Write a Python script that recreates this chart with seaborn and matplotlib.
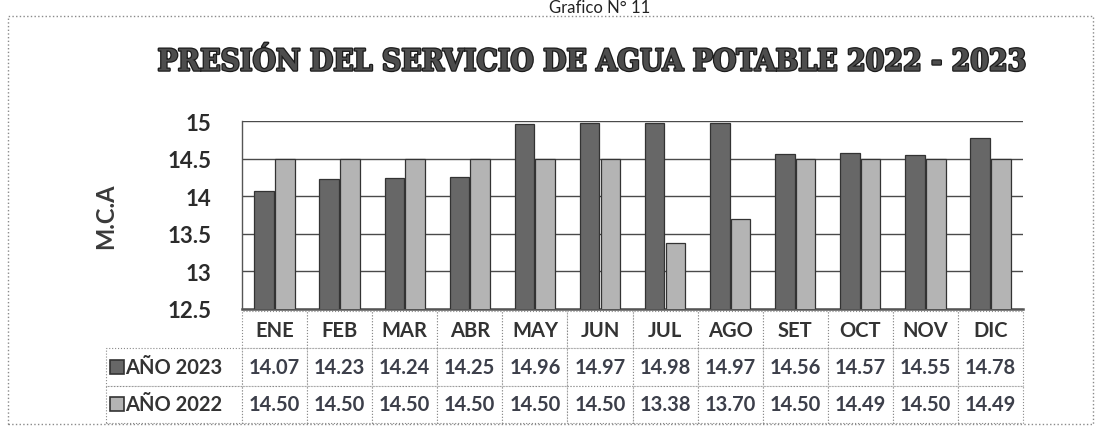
import matplotlib
matplotlib.use('Agg')
import matplotlib.pyplot as plt
import matplotlib.patheffects as pe
from matplotlib.patches import Rectangle
import numpy as np
import pandas as pd
import seaborn as sns

meses = ['ENE', 'FEB', 'MAR', 'ABR', 'MAY', 'JUN', 'JUL', 'AGO', 'SET', 'OCT', 'NOV', 'DIC']
anio_2023 = [14.07, 14.23, 14.24, 14.25, 14.96, 14.97, 14.98, 14.97, 14.56, 14.57, 14.55, 14.78]
anio_2022 = [14.50, 14.50, 14.50, 14.50, 14.50, 14.50, 13.38, 13.70, 14.50, 14.49, 14.50, 14.49]
series = ['AÑO 2023', 'AÑO 2022']
y_ticks = [12.5, 13, 13.5, 14, 14.5, 15]

colores = {'AÑO 2023': '#676767', 'AÑO 2022': '#b4b4b4'}

df = pd.DataFrame({
    'mes': meses * 2,
    'serie': [series[0]] * len(meses) + [series[1]] * len(meses),
    'valor': anio_2023 + anio_2022,
})

sns.set_theme(style='white')
plt.rcParams['font.family'] = ['Lato', 'DejaVu Sans']

W, H = 1101, 427
fig = plt.figure(figsize=(W / 100, H / 100), dpi=100)
fig.patch.set_facecolor('white')

# plot area in pixels of the reference
ax_l, ax_r, ax_t, ax_b = 242, 1023, 122, 310
ax = fig.add_axes([ax_l / W, 1 - ax_b / H, (ax_r - ax_l) / W, (ax_b - ax_t) / H])

sns.barplot(data=df, x='mes', y='valor', hue='serie', order=meses, hue_order=series,
            palette=colores, width=0.64, gap=0.06, edgecolor='#333333', linewidth=0.9,
            legend=False, ax=ax, zorder=3)

ax.set_ylim(12.5, 15)
ax.set_xlim(-0.5, len(meses) - 0.5)
ax.set_yticks(y_ticks)
ax.set_yticklabels([f'{t:g}' for t in y_ticks], fontsize=16, fontweight='bold', color='#2b2b2b')
ax.set_xticks([])
ax.set_xlabel('')
ax.set_ylabel('M.C.A', fontsize=17, fontweight='bold', color='#3a3a3a', labelpad=36)
ax.tick_params(axis='y', length=0, pad=22)
ax.yaxis.grid(True, color='#4a4a4a', linewidth=1.0, zorder=0)
for s in ['top', 'right']:
    ax.spines[s].set_visible(False)
ax.spines['left'].set_color('#555555')
ax.spines['bottom'].set_color('#555555')
ax.spines['left'].set_linewidth(1.0)
ax.spines['bottom'].set_linewidth(1.8)

# data table under the plot
tab_l, tab_t, tab_b = 106, 312, 424
label_w = ax_l - tab_l
col_w = (ax_r - ax_l) / len(meses)
ax_w, ax_h = ax_r - ax_l, ax_b - ax_t
cell_text = [[''] + meses,
             [series[0]] + [f'{v:.2f}' for v in anio_2023],
             [series[1]] + [f'{v:.2f}' for v in anio_2022]]
widths = [label_w / W] + [col_w / W] * len(meses)
tab = ax.table(cellText=cell_text, cellLoc='center', colWidths=widths,
               bbox=[(tab_l - ax_l) / ax_w, (ax_b - tab_b) / ax_h,
                     (ax_r - tab_l) / ax_w, (tab_b - tab_t) / ax_h])
tab.auto_set_font_size(False)
for (r, c), cell in tab.get_celld().items():
    cell.set_edgecolor('#8a8a8a')
    cell.set_linewidth(0.8)
    cell.set_linestyle(':')
    txt = cell.get_text()
    txt.set_fontsize(14.5)
    txt.set_fontweight('bold')
    txt.set_color('#333333' if r == 0 or c == 0 else '#3c3f4a')
    if r == 0 and c == 0:
        cell.visible_edges = ''
    if c == 0 and r > 0:
        cell._loc = 'left'
        cell.PAD = 0.18

# legend keys inside the row labels
row_h = (tab_b - tab_t) / 3
for i, s in enumerate(series):
    yc = tab_t + row_h * (i + 1.5)
    ax.plot([(tab_l + 11 - ax_l) / ax_w], [(ax_b - yc) / ax_h], marker='s', markersize=10,
            color=colores[s], markeredgecolor='#333333', markeredgewidth=1.2,
            transform=ax.transAxes, clip_on=False)

# title
fig.text(0.538, 1 - 63 / H, 'PRESIÓN DEL SERVICIO DE AGUA POTABLE 2022 - 2023',
         ha='center', va='center', fontsize=21.5, fontweight='bold',
         family=['DejaVu Serif'], fontstretch='condensed', color='#4d4d4d',
         path_effects=[pe.withStroke(linewidth=1.8, foreground='#1c1c1c')])

# caption just above the frame
fig.text(0.545, 1 - 8 / H, 'Grafico N° 11', ha='center', va='center', fontsize=12,
         color='#222222')

# dotted frame around the chart
fig.patches.append(Rectangle((8 / W, 2 / H), 1 - 16 / W, 1 - 19 / H,
                             transform=fig.transFigure, fill=False,
                             edgecolor='#8a8a8a', linewidth=1.0, linestyle=':'))

fig.savefig('out.png', dpi=100)
